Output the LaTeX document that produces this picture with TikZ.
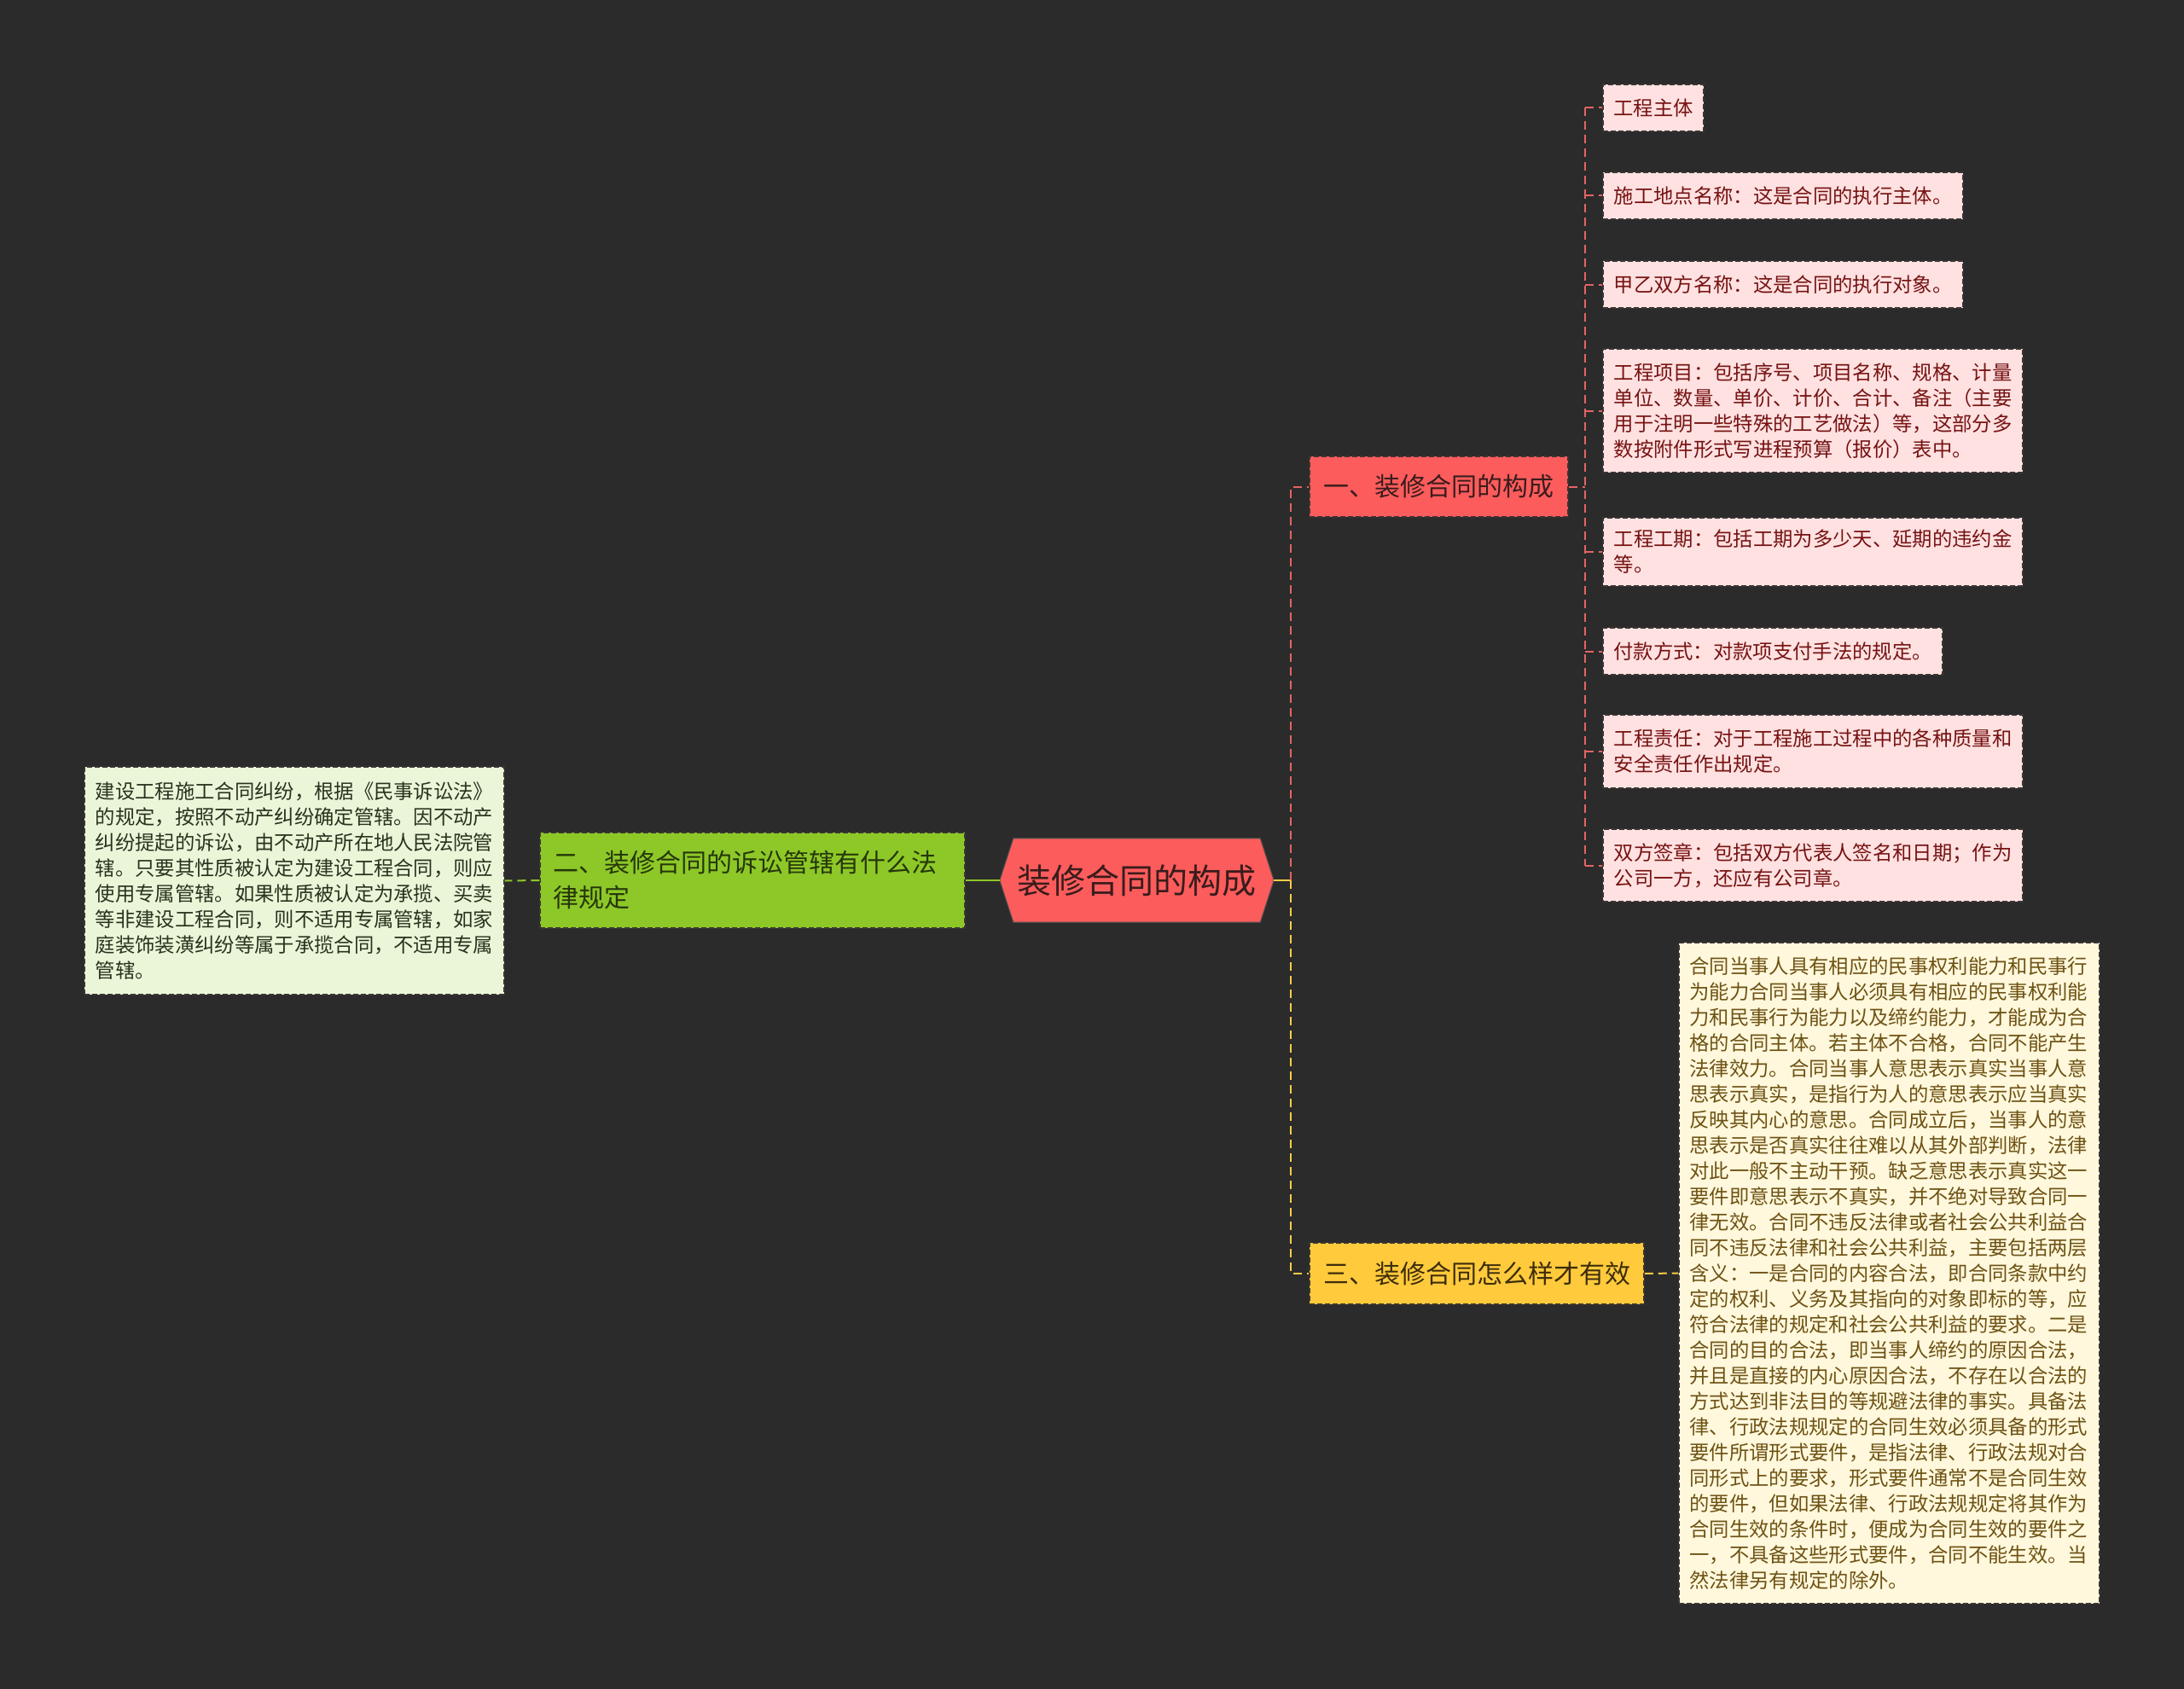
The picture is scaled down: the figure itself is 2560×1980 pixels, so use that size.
\documentclass[tikz,border=0pt]{standalone}
\usepackage{fontspec}
\setmainfont{Noto Sans CJK SC}
\usetikzlibrary{backgrounds}
\definecolor{bgc}{RGB}{43,43,43}
\definecolor{cred}{RGB}{252,92,92}
\definecolor{ctext}{RGB}{58,28,28}
\definecolor{pinkfill}{RGB}{255,225,225}
\definecolor{pinktext}{RGB}{118,18,18}
\definecolor{greenfill}{RGB}{141,200,40}
\definecolor{greentext}{RGB}{38,55,10}
\definecolor{lgfill}{RGB}{235,246,217}
\definecolor{lgtext}{RGB}{40,50,30}
\definecolor{yelfill}{RGB}{255,202,60}
\definecolor{yeltext}{RGB}{60,45,10}
\definecolor{lyfill}{RGB}{255,248,220}
\definecolor{lytext}{RGB}{110,82,20}
\definecolor{boxline}{RGB}{60,52,52}
\definecolor{rline}{RGB}{228,100,100}
\definecolor{yline}{RGB}{250,205,70}
\definecolor{gline}{RGB}{140,200,40}
\begin{document}
\begin{tikzpicture}[x=0.75pt,y=-0.75pt,
  box/.style={draw=boxline, line width=1.1pt, dash pattern=on 4.5pt off 2.25pt, inner sep=0pt, align=left},
  leaf/.style={box, fill=pinkfill, text=pinktext, font=\fontsize{17.5pt}{22.5pt}\selectfont},
  topic/.style={box, font=\fontsize{22.5pt}{30.75pt}\selectfont},
  conn/.style={line width=1.5pt},
  dconn/.style={line width=1.5pt, dash pattern=on 7.5pt off 4.5pt}]
\begin{scope}[on background layer]
\fill[bgc] (0,0) rectangle (2560,1980);
\end{scope}
\useasboundingbox (0,0) rectangle (2560,1980);

% central
\node[minimum width=240.75pt, minimum height=73.5pt, inner sep=0pt, text=ctext,
  font=\fontsize{30pt}{36pt}\selectfont] (c) at (1332.5,1032) {装修合同的构成};
\begin{scope}[on background layer]
\filldraw[fill=cred, draw=black!70, line width=0.8pt] (c.west) -- ([xshift=12pt]c.north west) -- ([xshift=-12pt]c.north east) -- (c.east) -- ([xshift=-12pt]c.south east) -- ([xshift=12pt]c.south west) -- cycle;
\end{scope}

% topics
\node[topic, fill=cred, text=ctext, minimum width=227.25pt, minimum height=53.25pt] (n1) at (1686.5,570.5) {一、装修合同的构成};
\node[topic, fill=greenfill, text=greentext, minimum width=373.5pt, minimum height=84pt, text width=351pt, inner xsep=11.25pt] (n2) at (882,1032) {二、装修合同的诉讼管辖有什么法\\%
律规定};
\node[topic, fill=yelfill, text=yeltext, minimum width=294pt, minimum height=54pt] (n3) at (1731,1493) {三、装修合同怎么样才有效};

% left leaf
\node[box, fill=lgfill, text=lgtext, font=\fontsize{17.5pt}{22.5pt}\selectfont, minimum width=369pt, minimum height=200.25pt, text width=350pt, inner xsep=9.5pt] (L) at (345,1032.5) {建设工程施工合同纠纷，根据《民事诉讼法》\\%
的规定，按照不动产纠纷确定管辖。因不动产\\%
纠纷提起的诉讼，由不动产所在地人民法院管\\%
辖。只要其性质被认定为建设工程合同，则应\\%
使用专属管辖。如果性质被认定为承揽、买卖\\%
等非建设工程合同，则不适用专属管辖，如家\\%
庭装饰装潢纠纷等属于承揽合同，不适用专属\\%
管辖。};

% pink leaves
\node[leaf, minimum width=88.5pt, minimum height=41.25pt] (p1) at (1938,126.5) {工程主体};
\node[leaf, minimum width=316.5pt, minimum height=41.25pt] (p2) at (2090,229.5) {施工地点名称：这是合同的执行主体。};
\node[leaf, minimum width=316.5pt, minimum height=41.25pt] (p3) at (2090,333.5) {甲乙双方名称：这是合同的执行对象。};
\node[leaf, minimum width=369pt, minimum height=108.75pt] (p4) at (2125,481.5) {工程项目：包括序号、项目名称、规格、计量\\%
单位、数量、单价、计价、合计、备注（主要\\%
用于注明一些特殊的工艺做法）等，这部分多\\%
数按附件形式写进程预算（报价）表中。};
\node[leaf, minimum width=369pt, minimum height=60pt, text width=350pt, inner xsep=9.5pt] (p5) at (2125,647) {工程工期：包括工期为多少天、延期的违约金\\%
等。};
\node[leaf, minimum width=298.5pt, minimum height=41.25pt] (p6) at (2078,763.5) {付款方式：对款项支付手法的规定。};
\node[leaf, minimum width=369pt, minimum height=64.5pt, text width=350pt, inner xsep=9.5pt] (p7) at (2125,881) {工程责任：对于工程施工过程中的各种质量和\\%
安全责任作出规定。};
\node[leaf, minimum width=369pt, minimum height=63.75pt, text width=350pt, inner xsep=9.5pt] (p8) at (2125,1014.5) {双方签章：包括双方代表人签名和日期；作为\\%
公司一方，还应有公司章。};

% right yellow leaf
\node[box, fill=lyfill, text=lytext, font=\fontsize{17.5pt}{22.5pt}\selectfont, minimum width=369.75pt, minimum height=581.25pt, text width=351pt, inner xsep=9.4pt] (Y) at (2214.5,1492.5) {合同当事人具有相应的民事权利能力和民事行\\%
为能力合同当事人必须具有相应的民事权利能\\%
力和民事行为能力以及缔约能力，才能成为合\\%
格的合同主体。若主体不合格，合同不能产生\\%
法律效力。合同当事人意思表示真实当事人意\\%
思表示真实，是指行为人的意思表示应当真实\\%
反映其内心的意思。合同成立后，当事人的意\\%
思表示是否真实往往难以从其外部判断，法律\\%
对此一般不主动干预。缺乏意思表示真实这一\\%
要件即意思表示不真实，并不绝对导致合同一\\%
律无效。合同不违反法律或者社会公共利益合\\%
同不违反法律和社会公共利益，主要包括两层\\%
含义：一是合同的内容合法，即合同条款中约\\%
定的权利、义务及其指向的对象即标的等，应\\%
符合法律的规定和社会公共利益的要求。二是\\%
合同的目的合法，即当事人缔约的原因合法，\\%
并且是直接的内心原因合法，不存在以合法的\\%
方式达到非法目的等规避法律的事实。具备法\\%
律、行政法规规定的合同生效必须具备的形式\\%
要件所谓形式要件，是指法律、行政法规对合\\%
同形式上的要求，形式要件通常不是合同生效\\%
的要件，但如果法律、行政法规规定将其作为\\%
合同生效的条件时，便成为合同生效的要件之\\%
一，不具备这些形式要件，合同不能生效。当\\%
然法律另有规定的除外。};

% connectors
\coordinate (t2) at (1513,1032);
\coordinate (t1) at (1858,570.5);
\draw[conn, yline] (c.east) -- (t2);
\draw[conn, gline] (c.west) -- (n2.east);
\draw[dconn, gline] (n2.west) -- (L.east);
\draw[dconn, rline] (t2) |- (n1.west);
\draw[dconn, yline] (t2) |- (n3.west);
\draw[dconn, yline] (n3.east) -- (Y.west);
\draw[dconn, rline] (n1.east) -- (t1);
\draw[dconn, rline] (t1 |- p1.west) -- (t1 |- p8.west);
\foreach \p in {p1,p2,p3,p4,p5,p6,p7,p8} {
  \draw[dconn, rline] (t1 |- \p.west) -- (\p.west);
}
\end{tikzpicture}
\end{document}
